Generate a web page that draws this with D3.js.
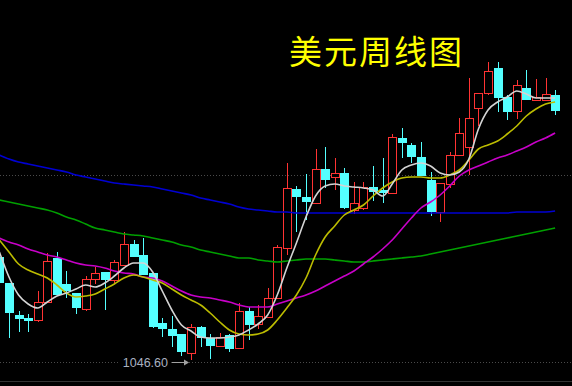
<!DOCTYPE html>
<html>
<head>
<meta charset="utf-8">
<script src="https://cdn.jsdelivr.net/npm/d3@7"></script>
<style>
  html, body { margin: 0; padding: 0; background: #000; overflow: hidden; }
</style>
</head>
<body>
<div id="chart"></div>
<script>
//------------------------------------------------------
// Données (周线)
//------------------------------------------------------
const opens = [1150,1124,1092,1089,1087,1105,1149,1123,1114,1098,1128,1135,1127,1142,1163,1152,1134,1084,1078,1073,
  1054,1080,1069,1061,1072,1059,1096,1083,1090,1109,1159,1218,1210,1204,1238,1230,1234,1197,1199,1220,
  1217,1214,1269,1262,1250,1227,1195,1223,1252,1260,1299,1314,1339,1310,1296,1319,1307,1307,1312];
const highs = [1157,1124,1096,1093,1116,1154,1155,1136,1114,1131,1140,1135,1147,1175,1167,1169,1134,1089,1091,1073,
  1083,1081,1073,1074,1073,1104,1100,1102,1119,1162,1244,1221,1233,1258,1260,1249,1239,1225,1225,1241,
  1249,1273,1279,1264,1265,1235,1224,1255,1289,1329,1314,1345,1345,1312,1327,1337,1328,1329,1317];
const lows = [1121,1069,1075,1075,1085,1105,1111,1109,1093,1096,1123,1097,1123,1142,1150,1132,1079,1070,1060,1051,
  1046.6,1060,1048,1061,1055,1059,1067,1078,1090,1109,1152,1175,1187,1204,1219,1217,1198,1193,1197,1206,
  1204,1214,1249,1244,1231,1191,1185,1219,1252,1232,1281,1312,1295,1287,1288,1307,1307,1307,1292];
const closes = [1124,1094,1088,1086,1105,1146,1112,1116,1099,1128,1134,1127,1145,1163,1150,1132,1080,1078,1071,1055,
  1080,1069,1061,1070,1058,1096,1082,1091,1109,1160,1219,1210,1205,1238,1227,1234,1199,1204,1220,1215,
  1214,1270,1264,1250,1231,1195,1224,1252,1274,1289,1314,1336,1309,1295,1322,1307,1310,1313,1296];

const ma5 = [1155,1130,1112,1103,1099,1105,1111,1114,1118,1122,1120,1124,1131,1139,1144,1144,1135,1116,1097,1082,
  1076,1070,1069,1069,1070,1072,1077,1083,1092,1112,1139,1164,1190,1211,1221,1223,1221,1220,1219,1217,
  1211,1223,1237,1242,1244,1241,1234,1232,1235,1248,1278,1297,1305,1310,1316,1313,1309,1309,1309];
const ma10 = [1167,1155,1143,1137,1133,1129,1122,1114,1110,1111,1113,1118,1123,1129,1132,1130,1127,1124,1118,1112,
  1107,1102,1094,1085,1077,1073,1072,1073,1077,1087,1099,1112,1129,1152,1170,1181,1192,1197,1202,1211,
  1219,1225,1229,1230,1230,1229,1229,1232,1237,1247,1258,1262,1266,1273,1281,1291,1298,1303,1305];
const ma20 = [1169,1165,1162,1158,1155,1152,1150,1147,1144,1142,1141,1139,1136,1134,1133,1130,1129,1126,1121,1116,
  1112,1110,1109,1107,1105,1102,1100,1100,1100,1103,1106,1109,1112,1116,1121,1126,1131,1136,1143,1150,
  1158,1167,1178,1189,1199,1205,1212,1221,1231,1237,1241,1245,1249,1252,1256,1260,1265,1269,1274];
const ma40 = [1207,1205,1203,1201,1199,1197,1194,1190,1187,1183,1179,1177,1175,1173,1172,1171,1169,1167,1165,1162,
  1160,1157,1155,1153,1151,1149,1149,1147,1146,1145,1146,1147,1148,1148,1148,1147,1146,1145,1145,1146,
  1147,1148,1149,1150,1151,1153,1155,1157,1159,1161,1163,1165,1167,1169,1171,1173,1175,1177,1179];
const ma60 = [1252,1248,1245,1243,1241,1239,1237,1235,1232,1230,1228,1226,1224,1223,1222,1221,1220,1218,1216,1214,
  1212,1209,1207,1205,1203,1200,1198,1197,1196,1195,1195,1194,1194,1194,1194,1194,1194,1194,1194,1194,
  1194,1194,1194,1194,1194,1194,1194,1194,1194,1194,1194,1194,1194,1194,1195,1195,1195,1195,1196];

const maList = [
  { name: "MA60", values: ma60, color: "#0000d2" },
  { name: "MA40", values: ma40, color: "#00a000" },
  { name: "MA20", values: ma20, color: "#c800c8" },
  { name: "MA10", values: ma10, color: "#bcbc00" },
  { name: "MA5",  values: ma5,  color: "#d4d4d4" }
];

const title = "美元周线图";
const refLevel = 1232;
const lowLabel = "1046.60";
const lowIndex = 20;

//------------------------------------------------------
// Dessin
//------------------------------------------------------
const width = 572;
const height = 386;

const candles = opens.map((o, i) => ({
  i, open: o, high: highs[i], low: lows[i], close: closes[i]
}));

const x = d3.scaleLinear()
  .domain([0, candles.length - 1])
  .range([-0.6, 555.1]);

const y = d3.scaleLinear()
  .domain([1021, 1407])
  .range([height, 0]);

const svg = d3.select("#chart").append("svg")
  .attr("width", width)
  .attr("height", height)
  .style("display", "block")
  .style("background", "#000");

// lignes de repère pointillées
svg.append("line")
  .attr("x1", 0).attr("x2", width)
  .attr("y1", Math.round(y(refLevel)) + 0.5)
  .attr("y2", Math.round(y(refLevel)) + 0.5)
  .attr("stroke", "#4a4a4a")
  .attr("stroke-dasharray", "1,2");

const yLow = Math.round(y(lows[lowIndex])) + 2.5;
svg.append("line")
  .attr("x1", 0).attr("x2", width)
  .attr("y1", yLow).attr("y2", yLow)
  .attr("stroke", "#4a4a4a")
  .attr("stroke-dasharray", "1,2");

svg.append("line")
  .attr("x1", 0).attr("x2", width)
  .attr("y1", 381.5).attr("y2", 381.5)
  .attr("stroke", "#333");

// bougies
const up = d => d.close >= d.open;

const candle = svg.append("g")
  .selectAll("g")
  .data(candles)
  .join("g")
  .attr("transform", d => `translate(${Math.round(x(d.i))},0)`);

candle.append("line")
  .attr("x1", 0.5).attr("x2", 0.5)
  .attr("y1", d => Math.round(y(d.high)))
  .attr("y2", d => Math.round(y(d.low)))
  .attr("stroke", d => up(d) ? "#ff3333" : "#54ffff");

candle.append("rect")
  .attr("x", d => up(d) ? -3.5 : -4)
  .attr("width", d => up(d) ? 8 : 9)
  .attr("y", d => Math.round(y(Math.max(d.open, d.close))) + (up(d) ? 0.5 : 0))
  .attr("height", d => Math.max(1, Math.round(y(Math.min(d.open, d.close)) - y(Math.max(d.open, d.close)))))
  .attr("fill", d => up(d) ? "#000" : "#54ffff")
  .attr("stroke", d => up(d) ? "#ff3333" : "none")
  .attr("stroke-width", 1);

// moyennes mobiles
const line = d3.line()
  .x((d, i) => x(i))
  .y(d => y(d))
  .curve(d3.curveMonotoneX);

svg.append("g")
  .selectAll("path")
  .data(maList)
  .join("path")
  .attr("d", d => line(d.values))
  .attr("fill", "none")
  .attr("stroke", d => d.color)
  .attr("stroke-width", 1.6);

// titre
svg.append("text")
  .attr("x", 289)
  .attr("y", 64)
  .attr("fill", "#ffff00")
  .attr("font-family", "'Noto Sans CJK SC', sans-serif")
  .attr("font-size", 33)
  .attr("letter-spacing", 2)
  .text(title);

// étiquette du plus bas
const xLow = Math.round(x(lowIndex));
svg.append("rect")
  .attr("x", 120).attr("y", yLow - 8)
  .attr("width", 51).attr("height", 16)
  .attr("fill", "#000");

svg.append("text")
  .attr("x", 168)
  .attr("y", yLow + 4.5)
  .attr("text-anchor", "end")
  .attr("fill", "#a9b1c0")
  .attr("font-family", "'Liberation Sans', Arial, sans-serif")
  .attr("font-size", 12.5)
  .text(lowLabel);

svg.append("line")
  .attr("x1", 172).attr("x2", xLow - 3)
  .attr("y1", yLow).attr("y2", yLow)
  .attr("stroke", "#a0a0a0");

svg.append("path")
  .attr("d", `M${xLow - 7},${yLow - 3}L${xLow - 2},${yLow}L${xLow - 7},${yLow + 3}Z`)
  .attr("fill", "#a0a0a0");
</script>
</body>
</html>
